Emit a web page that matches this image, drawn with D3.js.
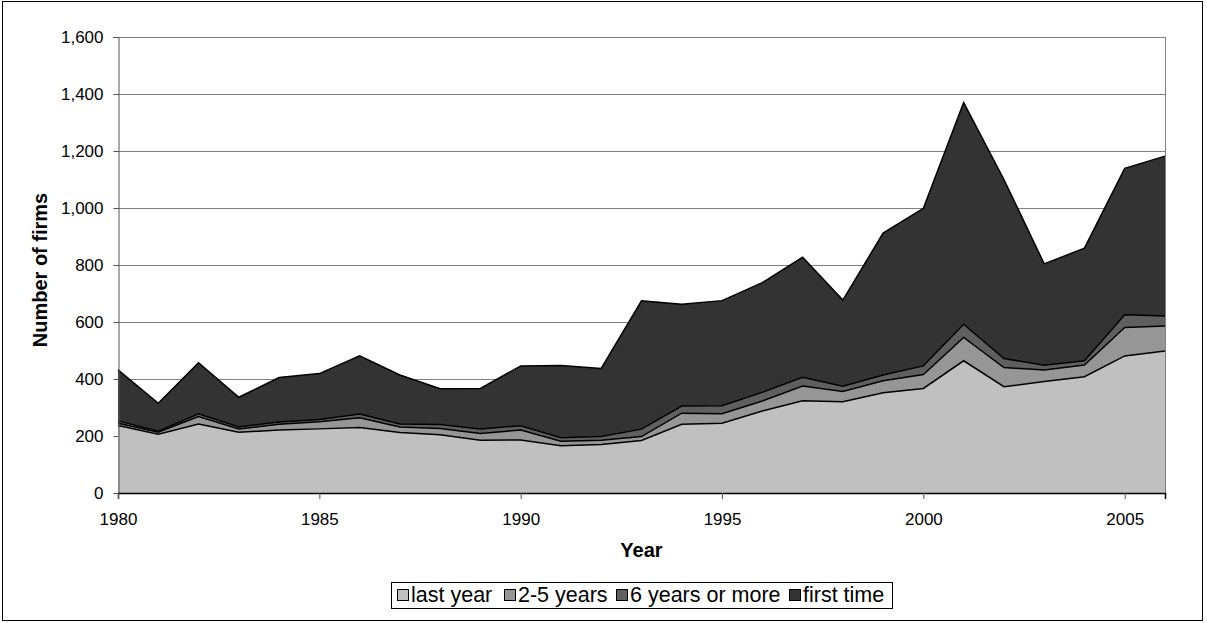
<!DOCTYPE html>
<html lang="en">
<head>
  <meta charset="UTF-8">
  <title>Number of firms</title>
  <style>
    body {
      margin: 0;
      background: #fff;
    }
    svg text {
      font-family: "Liberation Sans", Arial, sans-serif;
      fill: #000;
    }
  </style>
</head>
<body>
  <svg></svg>
</body>
<script src="https://cdn.jsdelivr.net/npm/d3@7"></script>
<script>
  var years = d3.range(1980, 2007)
  var lastYear  = [237, 206, 242, 213, 221, 225, 230, 212, 204, 185, 186, 166, 170, 184, 241, 245, 288, 324, 320, 352, 367, 464, 373, 391, 408, 481, 498]
  var twoFive   = [8, 7, 26, 12, 20, 25, 34, 20, 22, 24, 35, 16, 15, 14, 39, 33, 35, 51, 36, 42, 49, 82, 67, 41, 41, 100, 88]
  var sixPlus   = [8, 4, 10, 7, 8, 8, 13, 10, 14, 16, 15, 12, 13, 26, 25, 28, 30, 31, 19, 20, 30, 46, 32, 16, 15, 44, 35]
  var firstTime = [179, 98, 179, 104, 156, 161, 204, 172, 126, 142, 210, 253, 239, 450, 357, 369, 385, 421, 302, 498, 553, 778, 628, 356, 395, 514, 561]

  var seriesNames = ['last year', '2-5 years', '6 years or more', 'first time']
  var seriesColors = ['#c0c0c0', '#969696', '#5f5f5f', '#333333']
  var yTicks = [0, 200, 400, 600, 800, 1000, 1200, 1400, 1600]
  var xTicks = [1980, 1985, 1990, 1995, 2000, 2005]

  var width = 1207
  var height = 623
  var plotL = 118, plotR = 1165, plotT = 37, plotB = 493

  var svg = d3.select('svg')
    .attr('width', width)
    .attr('height', height)

  // outer frame
  svg.append('rect')
    .attr('x', 2.5).attr('y', 1.5)
    .attr('width', 1200).attr('height', 619)
    .attr('fill', 'none').attr('stroke', '#000')

  var x = d3.scaleLinear().domain([1980, 2006]).range([plotL, plotR])
  var y = d3.scaleLinear().domain([0, 1600]).range([plotB, plotT])

  // table for the stack
  var table = years.map((yr, i) => ({
    year: yr,
    'last year': lastYear[i],
    '2-5 years': twoFive[i],
    '6 years or more': sixPlus[i],
    'first time': firstTime[i]
  }))
  var stacked = d3.stack().keys(seriesNames)(table)

  // gridlines
  svg.append('g')
    .selectAll('line')
    .data(yTicks.slice(1))
    .enter()
    .append('line')
    .attr('x1', plotL).attr('x2', plotR)
    .attr('y1', d => Math.round(y(d)) + 0.5)
    .attr('y2', d => Math.round(y(d)) + 0.5)
    .attr('stroke', '#808080')

  // right side of plot area
  svg.append('line')
    .attr('x1', plotR + 0.5).attr('x2', plotR + 0.5)
    .attr('y1', plotT).attr('y2', plotB)
    .attr('stroke', '#808080')

  var area = d3.area()
    .x(d => x(d.data.year))
    .y0(d => y(d[0]))
    .y1(d => y(d[1]))

  var topLine = d3.line()
    .x(d => x(d.data.year))
    .y(d => y(d[1]))

  svg.append('g')
    .selectAll('path')
    .data(stacked)
    .enter()
    .append('path')
    .attr('d', area)
    .attr('fill', (d, i) => seriesColors[i])

  svg.append('g')
    .selectAll('path')
    .data(stacked)
    .enter()
    .append('path')
    .attr('d', topLine)
    .attr('fill', 'none')
    .attr('stroke', '#000')
    .attr('stroke-width', 1.5)

  // y axis
  var yAxis = d3.axisLeft(y)
    .tickValues(yTicks)
    .tickSize(5)
    .tickPadding(10)
    .tickFormat(d3.format(','))
  var gy = svg.append('g')
    .attr('transform', `translate(${plotL + 0.5},0)`)
    .call(yAxis)
  gy.select('.domain').attr('stroke', '#555')
  gy.selectAll('.tick line').attr('stroke', '#555')
  gy.selectAll('text')
    .style('font-size', '17px')
    .attr('fill', '#000')

  // x axis
  var xAxis = d3.axisBottom(x)
    .tickValues(xTicks)
    .tickSize(6)
    .tickPadding(14)
    .tickFormat(d3.format('d'))
  var gx = svg.append('g')
    .attr('transform', `translate(0,${plotB})`)
    .call(xAxis)
  gx.select('.domain').attr('stroke', '#000').attr('stroke-width', 1.5)
  gx.selectAll('.tick line').attr('stroke', '#555')
  gx.selectAll('text')
    .style('font-size', '17px')
    .attr('fill', '#000')

  // axis titles
  svg.append('text')
    .attr('x', (plotL + plotR) / 2)
    .attr('y', 557)
    .attr('text-anchor', 'middle')
    .style('font-size', '20px')
    .style('font-weight', 'bold')
    .text('Year')

  svg.append('text')
    .attr('transform', `translate(47,${(plotT + plotB) / 2 + 5}) rotate(-90)`)
    .attr('text-anchor', 'middle')
    .style('font-size', '20px')
    .style('font-weight', 'bold')
    .text('Number of firms')

  // legend
  var legend = svg.append('g')
  legend.append('rect')
    .attr('x', 391.5).attr('y', 582.5)
    .attr('width', 501).attr('height', 26)
    .attr('fill', '#fff').attr('stroke', '#000')

  var legendX = [397, 504, 616, 789]
  var items = legend.selectAll('g.item')
    .data(seriesNames)
    .enter()
    .append('g')
    .attr('class', 'item')
    .attr('transform', (d, i) => `translate(${legendX[i]},589)`)
  items.append('rect')
    .attr('x', 0.5).attr('y', 0.5)
    .attr('width', 11).attr('height', 11)
    .attr('fill', (d, i) => seriesColors[i])
    .attr('stroke', '#000')
  items.append('text')
    .attr('x', 14)
    .attr('y', 13)
    .style('font-size', '21.5px')
    .text(d => d)
</script>
</html>
